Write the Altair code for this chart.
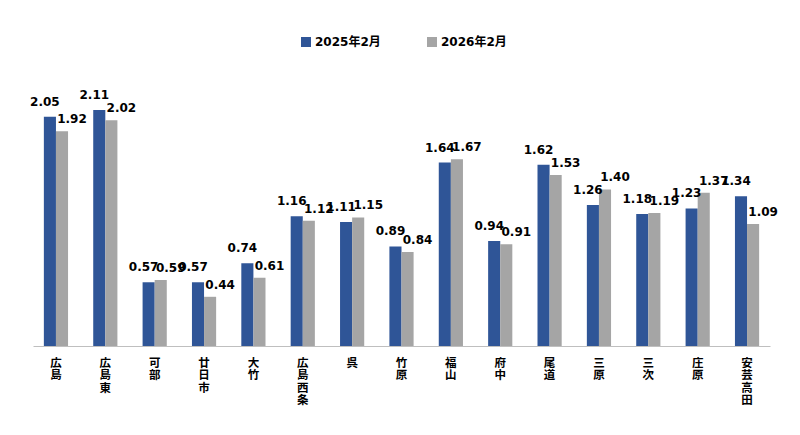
import altair as alt
import pandas as pd

categories = ["広島", "広島東", "可部", "廿日市", "大竹", "広島西条", "呉", "竹原",
              "福山", "府中", "尾道", "三原", "三次", "庄原", "安芸高田"]
series = ["2025年2月", "2026年2月"]
values_2025 = [2.05, 2.11, 0.57, 0.57, 0.74, 1.16, 1.11, 0.89, 1.64, 0.94, 1.62, 1.26, 1.18, 1.23, 1.34]
values_2026 = [1.92, 2.02, 0.59, 0.44, 0.61, 1.12, 1.15, 0.84, 1.67, 0.91, 1.53, 1.40, 1.19, 1.37, 1.09]
colors = ["#2F5597", "#A5A5A5"]

rows = []
for c, a, b in zip(categories, values_2025, values_2026):
    rows.append({"area": c, "series": series[0], "value": a})
    rows.append({"area": c, "series": series[1], "value": b})
df = pd.DataFrame(rows)

LATIN = "DejaVu Sans, Noto Sans CJK JP"
CJK = "Noto Sans CJK JP"

x_enc = alt.X("area:N", sort=categories, title=None,
              scale=alt.Scale(paddingInner=0.51, paddingOuter=0.22),
              axis=alt.Axis(labelAngle=0, labelExpr="split(datum.label, '')",
                            labelFont=CJK, labelFontWeight="bold", labelFontSize=11.5,
                            labelLineHeight=12.5, labelColor="#000000", labelBaseline="top",
                            labelPadding=11, ticks=False, domainColor="#BFBFBF",
                            domainWidth=1))
y_enc = alt.Y("value:Q", title=None, axis=None,
              scale=alt.Scale(domain=[0, 2.2], nice=False))
xoff = alt.XOffset("series:N", sort=series)

bars = alt.Chart(df).mark_bar().encode(
    x=x_enc, y=y_enc, xOffset=xoff,
    color=alt.Color("series:N", sort=series,
                    scale=alt.Scale(domain=series, range=colors),
                    legend=alt.Legend(orient="none", legendX=267, legendY=-64,
                                      direction="horizontal", title=None,
                                      symbolType="square", symbolSize=100,
                                      symbolStrokeWidth=0,
                                      labelFont=LATIN, labelFontWeight="bold",
                                      labelFontSize=12, labelColor="#000000",
                                      columnPadding=45, labelOffset=3)),
)

def labels(s, dx, dy):
    return alt.Chart(df).transform_filter(alt.datum.series == s).mark_text(
        font="DejaVu Sans", fontWeight="bold", fontSize=12, color="#000000",
        baseline="bottom", dx=dx, dy=dy
    ).encode(x=alt.X("area:N", sort=categories), y="value:Q", xOffset=xoff,
             text=alt.Text("value:Q", format=".2f"))

chart = alt.layer(bars, labels(series[0], -5, -8), labels(series[1], 10, -5)).properties(
    width=737, height=246,
    autosize=alt.AutoSizeParams(type="none"),
    padding={"left": 25, "top": 92, "right": 20, "bottom": 80},
).configure_view(stroke=None).configure_axis(grid=False)

chart.save("out.html", embed_options={"renderer": "svg", "actions": False})
